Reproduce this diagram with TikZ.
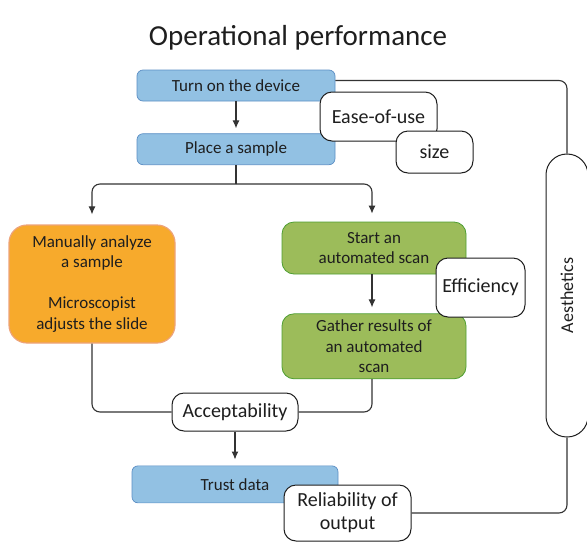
\documentclass[tikz,border=0pt]{standalone}
\usepackage{fontspec}
\setmainfont{Carlito}
\usepackage{xcolor}
\usetikzlibrary{arrows.meta,positioning}

\definecolor{procblue}{HTML}{92C1E3}
\definecolor{procblueline}{HTML}{5B8EC4}
\definecolor{manorange}{HTML}{F7AA2C}
\definecolor{manorangeline}{HTML}{EDA37A}
\definecolor{autogreen}{HTML}{9CBC5A}
\definecolor{autogreenline}{HTML}{4E9E32}
\definecolor{inkgray}{HTML}{1E1E1E}
\definecolor{wiregray}{HTML}{333333}

\begin{document}
\begin{tikzpicture}[x=1pt, y=-1pt, >={Latex[length=8pt,width=7pt]}, line width=1pt]
        \tikzset{
                basic/.style  = {draw, align=center, text=inkgray, inner sep=2pt,
                                font=\fontsize{17}{20.5}\selectfont},
                proc/.style   = {basic, fill=procblue, draw=procblueline, line width=0.7pt,
                                rounded corners=6pt, minimum height=31},
                manual/.style = {basic, fill=manorange, draw=manorangeline, line width=1.2pt,
                                rounded corners=18pt},
                auto/.style   = {basic, fill=autogreen, draw=autogreenline, line width=0.8pt,
                                rounded corners=12pt, minimum width=184},
                crit/.style   = {basic, fill=white, draw=inkgray, line width=1pt,
                                rounded corners=12pt, font=\fontsize{20}{23}\selectfont},
                capsule/.style = {crit, rounded corners=20.9pt, font=\fontsize{18}{21}\selectfont},
                wire/.style   = {draw=wiregray, line width=1.1pt, rounded corners=8pt}
        }
        \useasboundingbox (0,0) rectangle (587,542);

        % title
        \node[text=inkgray, font=\fontsize{29}{34}\selectfont] (title) at (298,38) {Operational performance};

        % main flow
        \node[proc, minimum width=198] (turn) at (236,85.5) {Turn on the device};
        \node[proc, minimum width=198, below=32pt of turn] (place) {Place a sample};
        \node[manual, minimum width=166, minimum height=118] (manual) at (92,284)
                {Manually analyze\\a sample\\[20.5pt]Microscopist\\adjusts the slide};
        \node[auto, minimum height=52] (start) at (374,248) {Start an\\automated scan};
        \node[auto, minimum height=65, below=39pt of start] (gather) {Gather results of\\an automated\\scan};
        \node[crit, minimum width=126, minimum height=38] (accept) at (235,412) {Acceptability};
        \node[proc, minimum width=206, minimum height=37, below=34pt of accept] (trust) {Trust data};

        % criteria laid over the flow
        \node[crit, minimum width=117, minimum height=49] (ease) at (378.5,116.5) {Ease-of-use};
        \node[crit, minimum width=77, minimum height=42] (size) at (434.5,152) {size};
        \node[crit, minimum width=89, minimum height=59] (effic) at (480.5,287.5) {Efficiency};
        \node[crit, minimum width=127, minimum height=56] (reliab) at (347.5,513) {Reliability of\\output};
        \node[capsule, rotate=90, minimum width=283, minimum height=42] (aes) at (567,295.5) {Aesthetics};

        % connectors
        \coordinate (fork) at (236,184);
        \draw[wire, ->, shorten >=5pt] (turn.south) -- (place.north);
        \draw[wire] (place.south) -- (fork);
        \draw[wire, ->, shorten >=10pt] (fork) -| (manual.north);
        \draw[wire, ->, shorten >=8pt] (fork) -| ([xshift=-2pt]start.north);
        \draw[wire, ->, shorten >=6pt] ([xshift=-2pt]start.south) -- ([xshift=-2pt]gather.north);
        \draw[wire] (manual.south) |- (accept.west);
        \draw[wire] ([xshift=-2pt]gather.south) |- (accept.east);
        \draw[wire, ->, shorten >=6pt] (accept.south) -- (trust.north);
        \draw[wire] ([yshift=5pt]turn.east) -| (aes.east);
        \draw[wire] (reliab.east) -| (aes.west);
\end{tikzpicture}
\end{document}
